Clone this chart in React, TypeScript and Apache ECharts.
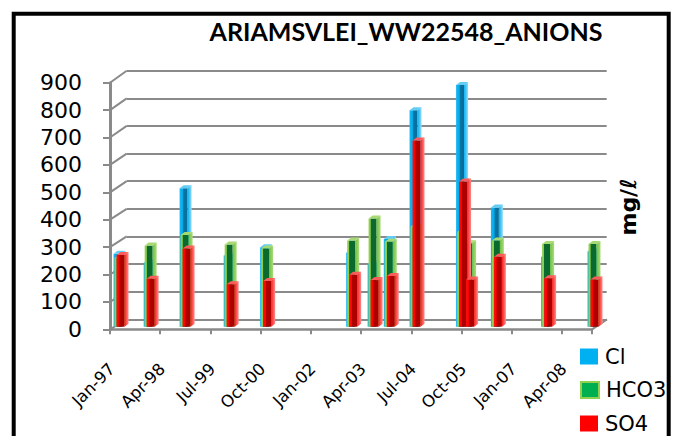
import { useEffect, useRef } from 'react';
import * as echarts from 'echarts';

const TITLE = 'ARIAMSVLEI_WW22548_ANIONS';
const UNIT_LABEL = 'mg/ℓ';
const SERIES_NAMES = ['Cl', 'HCO3', 'SO4'];
const SAMPLE_DATES = [
  '1997-02-18', '1997-11-18', '1998-10-10', '1999-11-15', '2000-10-12',
  '2002-12-03', '2003-06-15', '2003-11-10', '2004-07-01', '2005-08-28',
  '2005-11-01', '2006-07-10', '2007-10-10', '2008-12-06',
];
const CL_VALUES = [266, 234, 505, 260, 290, 270, 230, 320, 790, 882, 285, 435, 255, 275];
const HCO3_VALUES = [250, 296, 335, 300, 285, 315, 395, 310, 365, 345, 305, 315, 302, 302];
const SO4_VALUES = [262, 175, 285, 155, 167, 190, 170, 185, 680, 530, 172, 255, 177, 172];
const Y_TICKS = [0, 100, 200, 300, 400, 500, 600, 700, 800, 900];
const X_TICK_LABELS = ['Jan-97', 'Apr-98', 'Jul-99', 'Oct-00', 'Jan-02', 'Apr-03', 'Jul-04', 'Oct-05', 'Jan-07', 'Apr-08'];
const AXIS_START_YEAR = 1997;
const AXIS_MONTHS = 144;
const TICK_MONTHS = 15;
const Y_MAX = 900;
const Y_STEP = 100;

const toMonth = (d: string) => {
  const [y, m, dd] = d.split('-').map(Number);
  return (y - AXIS_START_YEAR) * 12 + (m - 1) + (dd - 1) / 30;
};

const GRID_COLOR = '#8a8a8a';
const BAR_W = 8;
const SIDE_X = 4;
const SIDE_Y = 3;
const DEPTH_X = 4.3;
const DEPTH_Y = -2.6;
const BACK_DX = 16.7;
const BACK_DY0 = -10;
const BACK_DY1 = -12;

const lg = (stops: [number, string][]) =>
  new echarts.graphic.LinearGradient(0, 0, 1, 0, stops.map(([offset, color]) => ({ offset, color })));

const PALETTES = [
  {
    legend: { color: '#00B0F0' },
    front: () => lg([[0, '#1cb8f2'], [0.42, '#00a9e8'], [0.5, '#0a74a4'], [1, '#086c99']]),
    side: () => lg([[0, '#00b0f0'], [1, '#9edcf6']]),
    top: '#62cdf4',
    offset: -2,
  },
  {
    legend: { color: '#00B050', borderColor: '#92D050', borderWidth: 2 },
    front: () => lg([[0, '#92d050'], [0.22, '#8ccc4c'], [0.3, '#0b6b2f'], [1, '#0a6a2d']]),
    side: () => lg([[0, '#6fc040'], [1, '#aadc7c']]),
    top: '#a6da70',
    offset: -1,
  },
  {
    legend: { color: '#FF0000' },
    front: () => lg([[0, '#ff1010'], [0.3, '#ff0000'], [0.38, '#b00000'], [1, '#aa0000']]),
    side: () => lg([[0, '#ff1a1a'], [1, '#ff8d8d']]),
    top: '#ff5a5a',
    offset: 1,
  },
];

const VALUES = [CL_VALUES, HCO3_VALUES, SO4_VALUES];
const LEGEND_TOPS = [346, 379.5, 413];

function barRenderer(idx: number) {
  const pal = PALETTES[idx];
  return (_params: any, api: any) => {
    const m = api.value(0);
    const v = api.value(1);
    const base = api.coord([m, 0]);
    const top = api.coord([m, v]);
    const cx = base[0] + DEPTH_X + pal.offset;
    const x0 = cx - BAR_W / 2;
    const x1 = cx + BAR_W / 2;
    const yb = base[1] + DEPTH_Y;
    const yt = top[1] + DEPTH_Y;
    return {
      type: 'group',
      children: [
        { type: 'rect', shape: { x: x0, y: yt, width: BAR_W, height: yb - yt }, style: { fill: pal.front() } },
        {
          type: 'polygon',
          shape: { points: [[x1, yt], [x1 + SIDE_X, yt - SIDE_Y], [x1 + SIDE_X, yb - SIDE_Y], [x1, yb]] },
          style: { fill: pal.side() },
        },
        {
          type: 'polygon',
          shape: { points: [[x0, yt], [x1, yt], [x1 + SIDE_X, yt - SIDE_Y], [x0 + SIDE_X, yt - SIDE_Y]] },
          style: { fill: pal.top },
        },
      ],
    };
  };
}

export default function App() {
  const ref = useRef<HTMLDivElement>(null);
  useEffect(() => {
    document.body.style.margin = '0';
    if (!ref.current) return;
    const chart = echarts.init(ref.current, undefined, { renderer: 'svg' });

    const barSeries = SERIES_NAMES.map((name, i) => ({
      name,
      type: 'custom',
      xAxisIndex: 0,
      yAxisIndex: 0,
      clip: false,
      silent: true,
      z: 3,
      itemStyle: PALETTES[i].legend,
      encode: { x: 0, y: 1 },
      data: SAMPLE_DATES.map((d, j) => [toMonth(d), VALUES[i][j]]),
      renderItem: barRenderer(i),
    }));

    const option: any = {
      animation: false,
      backgroundColor: '#ffffff',
      grid: [
        { left: 110, top: 82.7, width: 482, height: 246.6 },
        { left: 126.7, top: 70.7, width: 480, height: 248.6 },
      ],
      xAxis: [
        {
          type: 'value',
          gridIndex: 0,
          min: 0,
          max: AXIS_MONTHS,
          interval: TICK_MONTHS,
          axisLine: { show: true, lineStyle: { color: GRID_COLOR, width: 2.5 } },
          axisTick: { show: true, length: 5, lineStyle: { color: GRID_COLOR, width: 2 } },
          splitLine: { show: false },
          axisLabel: { show: false },
        },
        { type: 'value', gridIndex: 1, min: 0, max: AXIS_MONTHS, show: false },
      ],
      yAxis: [
        {
          type: 'value',
          gridIndex: 0,
          min: 0,
          max: Y_MAX,
          interval: Y_STEP,
          axisLine: { show: true, lineStyle: { color: GRID_COLOR, width: 3 } },
          axisTick: { show: true, length: 7, lineStyle: { color: GRID_COLOR, width: 2 } },
          splitLine: { show: false },
          axisLabel: { margin: 28, fontFamily: 'DejaVu Sans', fontSize: 22, color: '#000' },
        },
        {
          type: 'value',
          gridIndex: 1,
          min: 0,
          max: Y_MAX,
          interval: Y_STEP,
          axisLine: { show: false },
          axisTick: { show: false },
          axisLabel: { show: false },
          splitLine: { show: true, lineStyle: { color: GRID_COLOR, width: 2 } },
        },
      ],
      legend: SERIES_NAMES.map((name, i) => ({
        orient: 'vertical',
        left: 580,
        top: LEGEND_TOPS[i],
        padding: 0,
        itemWidth: 18,
        itemHeight: 16,
        selectedMode: false,
        textStyle: { fontFamily: 'DejaVu Sans', fontSize: 21, color: '#000', padding: [0, 0, 0, 2] },
        data: [{ name, icon: 'rect', itemStyle: PALETTES[i].legend }],
      })),
      graphic: [
        {
          type: 'rect',
          shape: { x: 13.7, y: 13.7, width: 655, height: 480 },
          style: { fill: 'none', stroke: '#000', lineWidth: 4 },
          silent: true,
        },
        {
          type: 'text',
          x: 406,
          y: 31,
          style: { text: TITLE, align: 'center', verticalAlign: 'middle', font: 'bold 25px Lato', fill: '#000' },
          silent: true,
        },
        {
          type: 'text',
          x: 628,
          y: 207,
          rotation: Math.PI / 2,
          style: { text: UNIT_LABEL, align: 'center', verticalAlign: 'middle', font: 'bold 22px "DejaVu Sans"', fill: '#000' },
          silent: true,
        },
      ],
      series: [
        {
          type: 'custom',
          name: 'frame',
          xAxisIndex: 0,
          yAxisIndex: 0,
          clip: false,
          silent: true,
          z: 1,
          encode: { x: 0, y: 1 },
          data: [...Y_TICKS.map((v) => [0, v, 0]), [AXIS_MONTHS, 0, 1]],
          renderItem: (_p: any, api: any) => {
            const m = api.value(0);
            const v = api.value(1);
            const kind = api.value(2);
            const p = api.coord([m, v]);
            const frac = v / Y_MAX;
            const dx = kind === 1 ? 15 : BACK_DX;
            const dy = BACK_DY0 + (BACK_DY1 - BACK_DY0) * frac;
            return {
              type: 'line',
              shape: { x1: p[0], y1: p[1], x2: p[0] + dx, y2: p[1] + dy },
              style: { stroke: GRID_COLOR, lineWidth: 2 },
            };
          },
        },
        {
          type: 'custom',
          name: 'xlabels',
          xAxisIndex: 0,
          yAxisIndex: 0,
          clip: false,
          silent: true,
          z: 1,
          encode: { x: 0, y: 1 },
          data: X_TICK_LABELS.map((_l, k) => [k * TICK_MONTHS, 0, k]),
          renderItem: (_p: any, api: any) => {
            const p = api.coord([api.value(0), 0]);
            const k = api.value(2);
            return {
              type: 'text',
              x: p[0] + 2,
              y: p[1] + 37,
              rotation: Math.PI / 4,
              style: {
                text: X_TICK_LABELS[k],
                align: 'right',
                verticalAlign: 'middle',
                font: '16.5px "DejaVu Sans"',
                fill: '#000',
              },
            };
          },
        },
        ...barSeries,
      ],
    };
    chart.setOption(option);
    return () => chart.dispose();
  }, []);
  return <div ref={ref} style={{ position: 'absolute', left: 0, top: 0, width: 675, height: 436 }} />;
}
